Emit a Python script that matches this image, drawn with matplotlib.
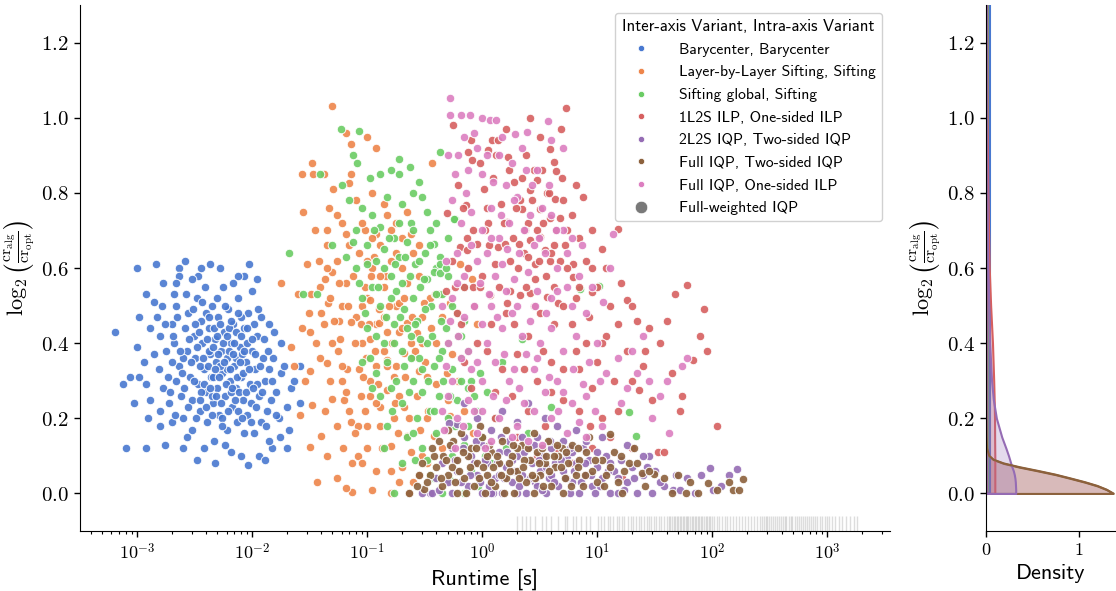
import math
import matplotlib
matplotlib.use("Agg")
import matplotlib.pyplot as plt
from matplotlib.lines import Line2D
from matplotlib.ticker import FuncFormatter, LogLocator, NullFormatter
from matplotlib.colors import to_rgba

plt.rcParams['font.family'] = ['cmss10', 'DejaVu Sans']
plt.rcParams['mathtext.fontset'] = 'cm'
plt.rcParams['axes.unicode_minus'] = False

# ---- data: (runtime [s], log2(cr_alg/cr_opt)) ----
bary_pts = [
    (6.5e-4, 0.43), (7.5e-4, 0.29), (8e-4, 0.12), (1.2e-3, 0.12), (1.0e-3, 0.60), (1.45e-3, 0.61),
    (2.6e-3, 0.62), (2.3e-3, 0.60), (4.3e-3, 0.61), (9.5e-3, 0.61), (3.4e-3, 0.58), (2.3e-3, 0.58),
    (1.7e-3, 0.56), (8.5e-3, 0.58), (1.0e-3, 0.39), (1.15e-3, 0.35), (8.7e-4, 0.31), (1.05e-3, 0.31),
    (1.2e-3, 0.53), (2.1e-3, 0.53), (1.4e-3, 0.51), (0.026, 0.24), (0.026, 0.34), (0.021, 0.17),
    (0.02, 0.12), (0.015, 0.12), (0.014, 0.45), (0.0153, 0.36), (0.018, 0.32), (4.8e-3, 0.08),
    (9.2e-3, 0.075), (1.75e-3, 0.13), (1.6e-3, 0.18),
    (1.5e-3, 0.47), (1.6e-3, 0.42), (1.8e-3, 0.38), (1.7e-3, 0.28), (1.9e-3, 0.24), (1.6e-3, 0.22),
    (2.0e-3, 0.45), (2.2e-3, 0.50), (2.1e-3, 0.40), (2.3e-3, 0.34), (2.2e-3, 0.30), (2.4e-3, 0.26),
    (2.5e-3, 0.20), (2.6e-3, 0.44), (2.7e-3, 0.38), (2.8e-3, 0.48), (2.9e-3, 0.31), (3.0e-3, 0.25),
    (3.0e-3, 0.17), (3.1e-3, 0.42), (3.2e-3, 0.36), (3.3e-3, 0.52), (3.4e-3, 0.29), (3.5e-3, 0.22),
    (3.6e-3, 0.46), (3.7e-3, 0.40), (3.8e-3, 0.33), (3.9e-3, 0.55), (4.0e-3, 0.27), (4.1e-3, 0.19),
    (4.2e-3, 0.44), (4.3e-3, 0.37), (4.4e-3, 0.31), (4.5e-3, 0.50), (4.6e-3, 0.24), (4.7e-3, 0.14),
    (4.8e-3, 0.41), (4.9e-3, 0.35), (5.0e-3, 0.28), (5.1e-3, 0.47), (5.2e-3, 0.21), (5.4e-3, 0.38),
    (5.5e-3, 0.32), (5.6e-3, 0.55), (5.7e-3, 0.43), (5.8e-3, 0.26), (6.0e-3, 0.17), (6.1e-3, 0.36),
    (6.2e-3, 0.49), (6.4e-3, 0.30), (6.5e-3, 0.40), (6.7e-3, 0.23), (6.9e-3, 0.45), (7.0e-3, 0.34),
    (7.2e-3, 0.28), (7.4e-3, 0.19), (7.6e-3, 0.52), (7.8e-3, 0.39), (8.0e-3, 0.31), (8.3e-3, 0.25),
    (8.5e-3, 0.44), (8.8e-3, 0.35), (9.0e-3, 0.21), (9.3e-3, 0.48), (9.6e-3, 0.29), (1.0e-2, 0.38),
    (1.03e-2, 0.16), (1.07e-2, 0.33), (1.1e-2, 0.42), (1.15e-2, 0.26), (1.2e-2, 0.19), (1.25e-2, 0.36),
    (1.3e-2, 0.30), (1.35e-2, 0.22), (1.4e-2, 0.14), (1.2e-2, 0.47), (1.0e-2, 0.54), (1.6e-2, 0.27),
    (1.7e-2, 0.20), (1.15e-2, 0.10), (6.5e-3, 0.11), (3.8e-3, 0.12), (2.7e-3, 0.15), (1.3e-3, 0.25),
    (1.3e-3, 0.44), (5.3e-3, 0.60), (7.5e-3, 0.58), (3.0e-3, 0.57), (2.0e-3, 0.35), (4.0e-3, 0.48),
    (5.0e-3, 0.42), (6.0e-3, 0.33), (7.0e-3, 0.40), (8.0e-3, 0.47), (9.0e-3, 0.40), (3.5e-3, 0.34),
    (4.5e-3, 0.26), (5.5e-3, 0.20), (6.5e-3, 0.27), (7.5e-3, 0.22), (8.5e-3, 0.16), (1.1e-2, 0.29),
    (2.5e-3, 0.36), (3.2e-3, 0.45), (4.2e-3, 0.38), (5.3e-3, 0.34), (6.3e-3, 0.44), (7.3e-3, 0.36),
    (8.2e-3, 0.37), (9.8e-3, 0.24), (1.05e-2, 0.45), (3.6e-3, 0.27), (4.6e-3, 0.31), (2.0e-3, 0.19),
    (1.8e-2, 0.40), (1.4e-2, 0.33), (0.022, 0.28), (0.02, 0.23),
    (1.55e-3, 0.33), (1.65e-3, 0.50), (1.75e-3, 0.45), (1.85e-3, 0.31), (1.95e-3, 0.27), (2.05e-3, 0.42),
    (2.15e-3, 0.21), (2.25e-3, 0.47), (2.35e-3, 0.38), (2.45e-3, 0.32), (2.55e-3, 0.28), (2.65e-3, 0.53),
    (2.75e-3, 0.23), (2.85e-3, 0.41), (2.95e-3, 0.35), (3.05e-3, 0.49), (3.15e-3, 0.30), (3.25e-3, 0.20),
    (3.35e-3, 0.39), (3.45e-3, 0.43), (3.55e-3, 0.25), (3.65e-3, 0.51), (3.75e-3, 0.36), (3.85e-3, 0.29),
    (3.95e-3, 0.23), (4.05e-3, 0.41), (4.15e-3, 0.34), (4.25e-3, 0.47), (4.35e-3, 0.28), (4.45e-3, 0.21),
    (4.55e-3, 0.39), (4.65e-3, 0.44), (4.75e-3, 0.33), (4.85e-3, 0.26), (4.95e-3, 0.52), (5.05e-3, 0.37),
    (5.15e-3, 0.31), (5.25e-3, 0.45), (5.35e-3, 0.24), (5.45e-3, 0.18), (5.6e-3, 0.40), (5.7e-3, 0.35),
    (5.8e-3, 0.50), (5.9e-3, 0.29), (6.05e-3, 0.42), (6.15e-3, 0.22), (6.3e-3, 0.38), (6.45e-3, 0.33),
    (6.6e-3, 0.46), (6.75e-3, 0.28), (6.9e-3, 0.37), (7.05e-3, 0.25), (7.2e-3, 0.43), (7.35e-3, 0.31),
    (7.5e-3, 0.48), (7.7e-3, 0.27), (7.85e-3, 0.35), (8.05e-3, 0.42), (8.2e-3, 0.20), (8.4e-3, 0.32),
    (8.6e-3, 0.38), (8.9e-3, 0.27), (9.1e-3, 0.44), (9.4e-3, 0.33), (9.7e-3, 0.19), (9.9e-3, 0.41),
    (1.02e-2, 0.28), (1.06e-2, 0.37), (1.09e-2, 0.23), (1.13e-2, 0.49), (1.18e-2, 0.34), (1.22e-2, 0.27),
    (1.28e-2, 0.41), (1.33e-2, 0.18), (1.38e-2, 0.38), (1.45e-2, 0.25), (1.5e-2, 0.30), (1.55e-2, 0.43),
    (1.62e-2, 0.21), (1.9e-2, 0.34), (2.3e-2, 0.30), (1.75e-2, 0.15), (2.5e-3, 0.12), (3.3e-3, 0.09),
    (5.8e-3, 0.13), (8.0e-3, 0.10), (1.3e-2, 0.09), (2.2e-3, 0.56), (3.6e-3, 0.60), (6.8e-3, 0.56),
    (1.1e-2, 0.57), (1.4e-3, 0.37), (1.2e-3, 0.29), (1.05e-3, 0.47), (1.25e-3, 0.20), (9.5e-4, 0.24),
]

lbl_pts = [
    (0.05, 1.03), (0.065, 0.96), (0.072, 0.93), (0.10, 0.95), (0.12, 0.92), (0.033, 0.88),
    (0.027, 0.85), (0.034, 0.85), (0.042, 0.85), (0.073, 0.85), (0.07, 0.825), (0.051, 0.81),
    (0.028, 0.75), (0.047, 0.76), (0.37, 0.88), (0.08, 0.78), (0.11, 0.80), (0.15, 0.74), (0.06, 0.72),
    (0.018, 0.56), (0.030, 0.61), (0.039, 0.55), (0.025, 0.53), (0.0325, 0.53), (0.045, 0.66),
    (0.055, 0.62), (0.065, 0.69), (0.075, 0.58), (0.085, 0.64), (0.095, 0.70), (0.11, 0.60),
    (0.13, 0.66), (0.16, 0.62), (0.2, 0.68), (0.25, 0.64), (0.06, 0.50), (0.08, 0.47), (0.1, 0.52),
    (0.12, 0.45), (0.14, 0.55), (0.18, 0.50), (0.22, 0.56), (0.28, 0.58), (0.35, 0.52), (0.3, 0.47),
    (0.042, 0.45), (0.05, 0.40),
    (0.031, 0.48), (0.04, 0.48), (0.032, 0.43), (0.046, 0.506), (0.057, 0.46), (0.072, 0.457),
    (0.09, 0.50), (0.107, 0.515), (0.126, 0.49), (0.058, 0.41), (0.039, 0.36), (0.045, 0.347),
    (0.0217, 0.39), (0.032, 0.327), (0.026, 0.21), (0.033, 0.236), (0.04, 0.152), (0.032, 0.124),
    (0.037, 0.03), (0.074, 0.005), (0.074, 0.08), (0.05, 0.252), (0.063, 0.25), (0.072, 0.19),
    (0.083, 0.18), (0.067, 0.33), (0.085, 0.33), (0.106, 0.30), (0.107, 0.26), (0.13, 0.23),
    (0.149, 0.276), (0.19, 0.26), (0.21, 0.23), (0.149, 0.356), (0.18, 0.34), (0.21, 0.373),
    (0.25, 0.364), (0.28, 0.325), (0.33, 0.31), (0.27, 0.427), (0.31, 0.506), (0.19, 0.506),
    (0.22, 0.453), (0.126, 0.453), (0.107, 0.41), (0.22, 0.152), (0.16, 0.126), (0.25, 0.03),
    (0.23, 0.002), (0.16, 0.002), (0.33, 0.08), (0.38, 0.152), (0.4, 0.40), (0.45, 0.47),
    (0.53, 0.506), (0.52, 0.207), (0.84, 0.16), (0.49, 0.32), (0.39, 0.53),
    (0.64, 0.61), (0.81, 0.57), (0.55, 0.37), (0.62, 0.30), (0.7, 0.22), (0.9, 0.45),
    (0.12, 0.06), (0.2, 0.07), (0.3, 0.10), (0.045, 0.10), (0.1, 0.12),
    (0.045, 0.70), (0.055, 0.74), (0.09, 0.72), (0.07, 0.66), (0.12, 0.69), (0.14, 0.77),
    (0.18, 0.72), (0.22, 0.75), (0.05, 0.59), (0.09, 0.40), (0.14, 0.38), (0.17, 0.20),
    (0.06, 0.30), (0.095, 0.22), (0.12, 0.34), (0.24, 0.40), (0.065, 0.56), (0.15, 0.43),
    (0.035, 0.70), (0.038, 0.62), (0.043, 0.57), (0.048, 0.52), (0.052, 0.46), (0.056, 0.38),
    (0.061, 0.34), (0.066, 0.27), (0.07, 0.22), (0.078, 0.16), (0.083, 0.10), (0.088, 0.26),
    (0.093, 0.31), (0.098, 0.36), (0.103, 0.45), (0.108, 0.58), (0.115, 0.63), (0.118, 0.38),
    (0.125, 0.29), (0.13, 0.18), (0.135, 0.12), (0.14, 0.47), (0.145, 0.58), (0.155, 0.50),
    (0.165, 0.40), (0.17, 0.31), (0.175, 0.24), (0.185, 0.16), (0.19, 0.43), (0.2, 0.60),
    (0.21, 0.52), (0.215, 0.31), (0.23, 0.20), (0.24, 0.11), (0.245, 0.47), (0.26, 0.38),
    (0.27, 0.26), (0.29, 0.17), (0.3, 0.40), (0.32, 0.35), (0.34, 0.22), (0.36, 0.44),
    (0.4, 0.29), (0.42, 0.53), (0.45, 0.12), (0.5, 0.25), (0.048, 0.30), (0.055, 0.18),
    (0.062, 0.12), (0.043, 0.22), (0.036, 0.40), (0.029, 0.30), (0.027, 0.44), (0.023, 0.34),
    (0.057, 0.56), (0.068, 0.50), (0.078, 0.40), (0.088, 0.45), (0.095, 0.55), (0.1, 0.62),
    (0.11, 0.68), (0.13, 0.58), (0.16, 0.70), (0.18, 0.64), (0.24, 0.69), (0.28, 0.66),
    (0.2, 0.44), (0.15, 0.34), (0.12, 0.24), (0.1, 0.18), (0.09, 0.08), (0.16, 0.06),
    (0.19, 0.03), (0.28, 0.05), (0.33, 0.20), (0.055, 0.04), (0.065, 0.015), (0.11, 0.01), (0.045, 0.6),
]

sift_pts = [
    (0.059, 0.97), (0.085, 0.966), (0.076, 0.90), (0.082, 0.88), (0.188, 0.89), (0.19, 0.85),
    (0.237, 0.87), (0.43, 0.91), (0.105, 0.84), (0.28, 0.83), (0.039, 0.85), (0.06, 0.82),
    (0.021, 0.64), (0.028, 0.53), (0.037, 0.53), (0.58, 0.73), (0.43, 0.63),
    (0.07, 0.78), (0.09, 0.76), (0.11, 0.74), (0.13, 0.71), (0.15, 0.79), (0.17, 0.68), (0.2, 0.77),
    (0.24, 0.72), (0.3, 0.79), (0.35, 0.70), (0.08, 0.70), (0.1, 0.66), (0.12, 0.62), (0.14, 0.65),
    (0.16, 0.58), (0.19, 0.63), (0.22, 0.67), (0.26, 0.61), (0.32, 0.64), (0.4, 0.60), (0.5, 0.58),
    (0.08, 0.60), (0.065, 0.63), (0.05, 0.66), (0.11, 0.55), (0.13, 0.50), (0.18, 0.54), (0.21, 0.49),
    (0.25, 0.52), (0.29, 0.55), (0.36, 0.50), (0.45, 0.53), (0.6, 0.48), (0.7, 0.55),
    (0.1, 0.44), (0.14, 0.40), (0.17, 0.45), (0.2, 0.38), (0.24, 0.42), (0.28, 0.36), (0.33, 0.40),
    (0.38, 0.34), (0.45, 0.38), (0.55, 0.33), (0.65, 0.36), (0.8, 0.30), (0.12, 0.32), (0.16, 0.28),
    (0.2, 0.24), (0.25, 0.30), (0.3, 0.27), (0.35, 0.22), (0.42, 0.26), (0.5, 0.20), (0.6, 0.25),
    (0.75, 0.18), (0.9, 0.22), (1.1, 0.27), (0.15, 0.18), (0.22, 0.15), (0.3, 0.12), (0.4, 0.16),
    (0.55, 0.10), (0.7, 0.13), (1.0, 0.15), (1.3, 0.20), (1.6, 0.12), (0.53, 0.037), (0.92, 0.02),
    (0.17, 0.0), (0.35, 0.05), (0.45, 0.0), (0.8, 0.06), (0.26, 0.09),
    (21.7, 0.154), (19.0, 0.218), (2.5, 0.16), (4.0, 0.23), (1.5, 0.35), (2.2, 0.41),
    (0.57, 0.73), (0.38, 0.665), (0.43, 0.61), (0.38, 0.59), (0.43, 0.586), (7.1, 0.544), (10.4, 0.552),
    (0.27, 0.46), (0.33, 0.57), (0.48, 0.44), (0.65, 0.42), (0.09, 0.35), (0.75, 0.28), (1.2, 0.08),
    (0.085, 0.56), (0.095, 0.48), (0.1, 0.61), (0.105, 0.36), (0.115, 0.70), (0.12, 0.42),
    (0.125, 0.55), (0.13, 0.26), (0.14, 0.60), (0.145, 0.47), (0.15, 0.35), (0.155, 0.68),
    (0.16, 0.52), (0.165, 0.22), (0.17, 0.40), (0.175, 0.61), (0.18, 0.30), (0.19, 0.72),
    (0.195, 0.47), (0.2, 0.56), (0.21, 0.34), (0.215, 0.63), (0.22, 0.44), (0.23, 0.27),
    (0.235, 0.58), (0.24, 0.36), (0.25, 0.70), (0.26, 0.45), (0.27, 0.20), (0.28, 0.62),
    (0.29, 0.41), (0.3, 0.33), (0.31, 0.57), (0.32, 0.49), (0.34, 0.30), (0.35, 0.66),
    (0.37, 0.42), (0.38, 0.22), (0.4, 0.53), (0.42, 0.36), (0.44, 0.46), (0.46, 0.30),
    (0.48, 0.60), (0.5, 0.40), (0.52, 0.26), (0.55, 0.50), (0.58, 0.18), (0.62, 0.42),
    (0.66, 0.30), (0.7, 0.46), (0.76, 0.38), (0.85, 0.26), (0.95, 0.32), (1.05, 0.10),
    (0.14, 0.12), (0.2, 0.08), (0.25, 0.16), (0.33, 0.09), (0.38, 0.04), (0.62, 0.06), (0.7, 0.0),
    (0.11, 0.28), (0.09, 0.52), (0.075, 0.67), (0.13, 0.85), (0.16, 0.86), (0.25, 0.80),
    (0.33, 0.75), (0.4, 0.72), (0.5, 0.68),
]

ilp_pts = [
    (5.35, 1.025), (0.56, 0.98), (0.80, 0.94), (1.21, 0.94), (1.38, 0.94), (1.13, 0.913), (1.31, 0.90),
    (1.66, 0.895), (2.4, 0.90), (3.9, 0.917), (4.2, 0.882), (0.81, 0.887), (3.0, 0.834), (4.4, 0.858),
    (2.6, 0.807), (3.64, 0.80), (4.3, 0.785), (5.0, 0.78), (2.14, 0.78), (2.2, 0.758), (3.2, 0.758),
    (3.9, 0.732), (4.75, 0.732), (1.04, 0.81), (0.73, 0.767), (0.49, 0.747), (1.64, 0.723),
    (1.13, 0.72), (0.84, 0.70), (0.74, 0.68), (0.90, 0.665), (1.38, 0.656), (1.58, 0.665),
    (2.07, 0.665), (2.6, 0.674), (3.2, 0.683), (3.5, 0.648), (2.3, 0.64), (2.9, 0.612), (3.9, 0.62),
    (6.1, 0.61), (1.75, 0.62), (1.3, 0.612), (0.64, 0.656), (0.74, 0.648), (0.48, 0.54), (0.58, 0.55),
    (0.69, 0.55), (0.84, 0.55), (0.96, 0.55), (1.17, 0.528), (1.75, 0.54), (2.14, 0.528), (2.6, 0.533),
    (3.64, 0.524), (4.6, 0.508), (1.64, 0.506), (15.0, 0.705), (18.0, 0.515), (47.0, 0.53),
    (60.0, 0.555), (9.0, 0.537), (6.1, 0.577), (2.8, 0.86), (1.9, 0.83), (6.5, 0.82), (7.5, 0.79),
    (5.5, 0.70), (4.2, 0.66), (1.1, 0.76), (2.5, 0.72),
    (78.0, 0.42), (85.0, 0.49), (68.0, 0.356), (52.0, 0.22), (23.0, 0.276), (110.0, 0.18),
    (34.0, 0.11), (38.0, 0.11), (16.5, 0.04), (8.6, 0.18),
    (6.0, 0.45), (8.0, 0.40), (10.0, 0.35), (12.0, 0.42), (14.0, 0.30), (18.0, 0.38), (25.0, 0.34),
    (30.0, 0.25), (4.0, 0.35), (3.0, 0.30), (2.5, 0.42), (2.0, 0.37), (1.5, 0.33), (1.2, 0.45),
    (0.9, 0.40), (0.7, 0.35), (0.6, 0.48), (5.0, 0.25), (7.0, 0.22), (9.0, 0.28), (11.0, 0.20),
    (13.0, 0.15), (3.5, 0.18), (2.5, 0.22), (1.8, 0.26), (1.3, 0.20), (0.8, 0.28), (4.5, 0.12),
    (6.0, 0.08), (20.0, 0.12), (15.0, 0.45), (20.0, 0.50), (28.0, 0.44), (35.0, 0.40), (45.0, 0.32),
    (5.0, 0.50), (7.0, 0.55), (9.0, 0.60), (11.0, 0.65), (3.2, 0.48), (2.4, 0.55), (1.6, 0.48),
    (1.0, 0.58), (0.75, 0.60), (40.0, 0.46),
    (0.62, 0.82), (0.68, 0.76), (0.95, 0.88), (1.05, 0.70), (1.15, 0.66), (1.25, 0.84), (1.45, 0.77),
    (1.55, 0.72), (1.7, 0.86), (1.85, 0.68), (1.95, 0.76), (2.05, 0.60), (2.2, 0.84), (2.35, 0.70),
    (2.5, 0.63), (2.7, 0.78), (2.85, 0.57), (3.0, 0.70), (3.1, 0.62), (3.3, 0.86), (3.4, 0.72),
    (3.6, 0.58), (3.8, 0.80), (4.0, 0.64), (4.2, 0.55), (4.4, 0.70), (4.7, 0.62), (4.9, 0.84),
    (5.2, 0.66), (5.5, 0.60), (6.0, 0.74), (6.5, 0.52), (7.0, 0.68), (8.0, 0.62), (9.0, 0.70),
    (10.0, 0.55), (12.0, 0.60), (0.55, 0.62), (0.65, 0.45), (0.85, 0.50), (1.1, 0.38), (1.4, 0.55),
    (1.9, 0.45), (2.3, 0.33), (2.8, 0.50), (3.4, 0.38), (4.2, 0.45), (5.0, 0.33), (6.5, 0.38),
    (8.5, 0.47), (11.0, 0.40), (13.0, 0.50), (16.0, 0.56), (22.0, 0.46), (26.0, 0.38), (0.75, 0.91),
    (1.6, 0.97), (2.6, 1.00), (3.2, 0.95), (4.8, 0.97), (1.3, 0.27), (2.0, 0.15), (3.0, 0.10),
    (4.0, 0.27), (7.0, 0.33), (9.0, 0.12), (15.0, 0.22), (20.0, 0.30), (55.0, 0.26), (90.0, 0.38),
]

twosided_pts = [
    (0.61, 0.186), (0.51, 0.188), (28.0, 0.10), (95.0, 0.068), (163.0, 0.066), (45.5, 0.01),
    (52.0, 0.01), (101.0, 0.01), (0.35, 0.0), (0.37, 0.0), (1.25, 0.002),
    (0.4, 0.04), (0.45, 0.08), (0.55, 0.12), (0.6, 0.06), (0.7, 0.15), (0.75, 0.02), (0.8, 0.10),
    (0.9, 0.05), (1.0, 0.13), (1.0, 0.0), (1.1, 0.08), (1.2, 0.17), (1.3, 0.04), (1.4, 0.11),
    (1.5, 0.0), (1.6, 0.07), (1.7, 0.14), (1.8, 0.03), (2.0, 0.10), (2.0, 0.19), (2.2, 0.05),
    (2.4, 0.0), (2.5, 0.12), (2.7, 0.08), (2.9, 0.03), (3.0, 0.15), (3.2, 0.06), (3.4, 0.10),
    (3.6, 0.0), (3.8, 0.04), (4.0, 0.12), (4.3, 0.08), (4.6, 0.02), (5.0, 0.06), (5.0, 0.14),
    (5.5, 0.10), (6.0, 0.03), (6.5, 0.08), (7.0, 0.0), (7.5, 0.12), (8.0, 0.05), (8.5, 0.09),
    (9.0, 0.02), (10.0, 0.07), (11.0, 0.04), (12.0, 0.10), (13.0, 0.0), (14.0, 0.06), (16.0, 0.09),
    (18.0, 0.03), (20.0, 0.07), (22.0, 0.0), (25.0, 0.05), (32.0, 0.06), (38.0, 0.02), (60.0, 0.04),
    (70.0, 0.0), (80.0, 0.05), (120.0, 0.02), (0.9, 0.20), (1.5, 0.22), (2.5, 0.24), (0.7, 0.24),
    (3.5, 0.20), (1.2, 0.0), (0.55, 0.0), (0.65, 0.03), (2.0, 0.0), (5.8, 0.0), (9.5, 0.0),
    (15.0, 0.0), (30.0, 0.0), (18.0, 0.13), (11.0, 0.15), (6.5, 0.17), (4.5, 0.18), (2.2, 0.15),
    (1.8, 0.09), (1.4, 0.05), (0.85, 0.08), (3.0, 0.02), (4.0, 0.05), (6.0, 0.11), (8.0, 0.14),
    (10.0, 0.11), (13.0, 0.08), (25.0, 0.10),
    (0.5, 0.03), (0.58, 0.09), (0.68, 0.12), (0.78, 0.05), (0.88, 0.14), (0.95, 0.03), (1.05, 0.09),
    (1.15, 0.02), (1.35, 0.08), (1.45, 0.15), (1.55, 0.04), (1.65, 0.11), (1.9, 0.06), (2.1, 0.02),
    (2.3, 0.11), (2.6, 0.04), (2.8, 0.13), (3.1, 0.09), (3.3, 0.01), (3.6, 0.07), (3.9, 0.14),
    (4.2, 0.03), (4.8, 0.09), (5.3, 0.04), (5.8, 0.12), (6.3, 0.06), (7.2, 0.03), (7.8, 0.08),
    (8.8, 0.05), (10.5, 0.02), (12.5, 0.06), (15.0, 0.04), (17.0, 0.01), (21.0, 0.04), (27.0, 0.07),
    (35.0, 0.03), (48.0, 0.05), (0.42, 0.01), (0.3, 0.0), (140.0, 0.05),
]

fulliqp_pts = [
    (0.56, 0.139), (0.46, 0.10), (0.31, 0.012), (0.23, 0.0), (4.9, 0.121), (12.9, 0.158),
    (21.0, 0.121), (19.0, 0.081), (24.3, 0.055), (31.0, 0.053), (38.0, 0.04), (64.0, 0.03),
    (92.0, 0.027), (183.0, 0.039), (151.0, 0.01), (75.0, 0.0), (59.0, 0.0), (16.3, 0.0), (1.06, 0.0),
    (0.4, 0.07), (0.5, 0.05), (0.6, 0.09), (0.65, 0.16), (0.7, 0.04), (0.8, 0.12), (0.85, 0.02),
    (0.9, 0.08), (1.0, 0.15), (1.1, 0.05), (1.2, 0.11), (1.3, 0.02), (1.4, 0.08), (1.5, 0.14),
    (1.6, 0.04), (1.8, 0.10), (1.9, 0.0), (2.0, 0.06), (2.2, 0.13), (2.4, 0.03), (2.6, 0.09),
    (2.8, 0.0), (3.0, 0.11), (3.2, 0.05), (3.5, 0.08), (3.7, 0.14), (4.0, 0.02), (4.3, 0.07),
    (4.6, 0.10), (5.2, 0.04), (5.6, 0.08), (6.0, 0.13), (6.5, 0.05), (7.0, 0.09), (7.5, 0.02),
    (8.0, 0.11), (9.0, 0.06), (10.0, 0.03), (11.0, 0.09), (12.0, 0.05), (14.0, 0.11), (15.0, 0.03),
    (17.0, 0.06), (0.35, 0.05), (0.45, 0.02), (0.55, 0.07), (0.75, 0.10), (1.25, 0.07), (1.75, 0.06),
    (2.3, 0.09), (2.9, 0.04), (3.4, 0.02), (4.5, 0.13), (5.0, 0.0), (0.6, 0.0), (0.38, 0.10),
    (0.3, 0.08), (0.42, 0.14), (0.28, 0.05), (26.0, 0.02), (45.0, 0.0), (110.0, 0.01), (140.0, 0.03),
    (170.0, 0.01), (0.95, 0.18), (1.6, 0.17), (2.8, 0.16), (0.5, 0.17), (8.5, 0.15), (2.0, 0.12),
    (3.6, 0.10), (1.1, 0.10), (6.8, 0.07), (0.27, 0.02),
    (0.33, 0.03), (0.37, 0.12), (0.44, 0.04), (0.48, 0.09), (0.52, 0.13), (0.58, 0.03), (0.63, 0.06),
    (0.68, 0.11), (0.72, 0.0), (0.78, 0.07), (0.88, 0.12), (0.93, 0.04), (1.02, 0.07), (1.15, 0.13),
    (1.2, 0.03), (1.35, 0.10), (1.45, 0.05), (1.55, 0.0), (1.7, 0.08), (1.85, 0.13), (2.1, 0.04),
    (2.25, 0.07), (2.5, 0.12), (2.7, 0.05), (3.1, 0.08), (3.3, 0.12), (3.8, 0.06), (4.2, 0.10),
    (4.8, 0.07), (5.4, 0.11), (5.9, 0.02), (6.8, 0.12), (7.8, 0.05), (9.5, 0.09), (11.5, 0.02),
    (13.0, 0.07), (16.0, 0.10), (22.0, 0.08), (28.0, 0.06), (50.0, 0.05),
]

onesided_pts = [
    (0.53, 1.053), (0.53, 1.006), (0.65, 1.006), (0.78, 1.006), (1.0, 1.0), (1.17, 0.995),
    (1.32, 0.995), (1.93, 0.956), (2.47, 0.962), (3.7, 0.99), (0.7, 0.95), (0.9, 0.92), (1.4, 0.90),
    (0.62, 0.90), (1.8, 0.88), (2.2, 0.92), (3.0, 0.86), (4.0, 0.94), (5.0, 0.92), (0.75, 0.86),
    (1.0, 0.85), (1.25, 0.83), (1.6, 0.82), (2.0, 0.79), (2.7, 0.82), (3.3, 0.76), (4.0, 0.74),
    (5.0, 0.70), (6.0, 0.68), (0.55, 0.78), (0.65, 0.72), (0.8, 0.75), (1.0, 0.70), (1.2, 0.76),
    (1.4, 0.68), (1.7, 0.72), (2.3, 0.70), (2.8, 0.66), (3.5, 0.64), (4.5, 0.60), (0.48, 0.62),
    (0.6, 0.64), (0.7, 0.58), (0.9, 0.62), (1.1, 0.64), (1.3, 0.58), (1.5, 0.61), (1.9, 0.57),
    (2.5, 0.59), (3.0, 0.54), (4.0, 0.52), (5.5, 0.55), (7.3, 0.66), (13.6, 0.69), (13.0, 0.60),
    (11.2, 0.51), (8.0, 0.48), (0.45, 0.50), (0.55, 0.52), (0.7, 0.47), (0.85, 0.50), (1.0, 0.45),
    (1.2, 0.50), (1.5, 0.44), (1.8, 0.48), (2.2, 0.42), (2.6, 0.46), (3.2, 0.40), (4.0, 0.44),
    (5.0, 0.38), (6.5, 0.42), (8.5, 0.35), (10.0, 0.40), (12.0, 0.32), (15.0, 0.36), (18.0, 0.28),
    (22.0, 0.32), (28.0, 0.30), (35.0, 0.26), (55.0, 0.34), (60.0, 0.36), (0.5, 0.40), (0.65, 0.36),
    (0.8, 0.33), (1.0, 0.30), (1.3, 0.35), (1.7, 0.30), (2.1, 0.28), (2.8, 0.33), (3.5, 0.27),
    (4.5, 0.30), (6.0, 0.24), (7.5, 0.29), (9.5, 0.22), (0.55, 0.30), (0.75, 0.25), (1.0, 0.22),
    (1.4, 0.20), (2.0, 0.18), (2.8, 0.22), (4.0, 0.20), (5.5, 0.16), (8.0, 0.15), (11.0, 0.18),
    (0.6, 0.20), (0.9, 0.16), (1.2, 0.14), (0.45, 0.22), (0.47, 0.17), (3.3, 0.13), (42.0, 0.16),
    (30.0, 0.20), (25.0, 0.42),
    (0.5, 0.90), (0.58, 0.85), (0.72, 0.80), (0.85, 0.96), (1.1, 0.90), (1.5, 0.95), (1.2, 0.68),
    (1.45, 0.74), (1.65, 0.65), (1.9, 0.78), (2.1, 0.64), (2.4, 0.86), (2.6, 0.74), (3.1, 0.68),
    (3.8, 0.82), (4.4, 0.70), (5.5, 0.64), (0.6, 0.56), (0.8, 0.66), (0.95, 0.56), (1.15, 0.53),
    (1.35, 0.47), (1.6, 0.54), (2.0, 0.50), (2.4, 0.37), (2.9, 0.50), (3.6, 0.48), (4.5, 0.54),
    (6.0, 0.50), (7.0, 0.58), (9.0, 0.55), (0.52, 0.46), (0.62, 0.42), (0.75, 0.38), (0.9, 0.35),
    (1.1, 0.40), (1.25, 0.26), (1.55, 0.37), (1.9, 0.33), (2.3, 0.24), (3.0, 0.36), (3.8, 0.31),
    (5.0, 0.27), (6.2, 0.33), (8.0, 0.26), (10.5, 0.30), (0.5, 0.26), (0.68, 0.18), (1.6, 0.25),
    (2.5, 0.14), (4.6, 0.22), (7.0, 0.19), (0.48, 0.34), (0.58, 0.12), (0.85, 0.22), (1.05, 0.12),
    (1.8, 0.15), (16.0, 0.24), (20.0, 0.38), (40.0, 0.30),
]

# Full-weighted IQP runtimes (rug)
weighted_runtime = [
    2.0, 2.2, 2.4, 2.6, 2.9, 3.3, 3.6, 4.0, 4.6, 5.2, 5.5, 6.1, 6.5, 7.2, 8.0, 8.7,
    10.2, 10.8, 11.5, 12.3, 13.0, 13.8, 14.7, 15.5, 16.4, 17.2, 18.5, 19.6, 20.5, 21.8, 22.9,
    24.0, 25.6, 26.8, 28.1, 29.5, 31.0, 32.7, 34.5, 36.0, 38.2,
    40.5, 42.0, 43.1, 44.5, 46.0, 47.2, 48.9, 50.3, 52.0, 53.8, 55.1, 57.0, 58.6, 60.4, 62.0,
    64.3, 66.1, 68.4, 70.2, 72.5, 74.8, 77.0, 79.6, 82.1, 84.8, 87.5, 90.2, 93.0, 96.1, 99.0,
    104, 109, 115, 121, 128, 135, 142, 151, 160, 170, 181, 192, 205, 218, 232, 246,
    262, 270, 281, 290, 301, 312, 325, 338, 350, 364, 378, 392, 408, 425, 441, 460, 478, 497,
    518, 540, 562, 585, 610, 636, 662, 690, 720, 752, 785, 820, 858, 900, 945, 990, 1040, 1100,
    1170, 1250, 1340, 1450, 1560, 1700, 1800,
]

# density panel
dens_y = [0.0, 0.01, 0.02, 0.03, 0.04, 0.05, 0.06, 0.07, 0.08, 0.09, 0.10, 0.12, 0.15,
          0.2, 0.25, 0.3, 0.4, 0.5, 0.6, 0.8, 1.0, 1.4]
dens_fulliqp = [1.37, 1.30, 1.20, 1.065, 0.91, 0.75, 0.56, 0.36, 0.19, 0.08, 0.035, 0.012, 0.006,
                0.003, 0.002, 0.002, 0.001, 0.001, 0.001, 0.001, 0.001, 0.001]
dens_twosided = [0.32, 0.32, 0.318, 0.316, 0.312, 0.305, 0.295, 0.28, 0.267, 0.255, 0.243, 0.215,
                 0.17, 0.112, 0.079, 0.06, 0.04, 0.03, 0.02, 0.01, 0.005, 0.002]
dens_ilp = [0.095, 0.095, 0.095, 0.095, 0.095, 0.095, 0.095, 0.095, 0.095, 0.095, 0.095, 0.094,
            0.093, 0.092, 0.088, 0.083, 0.07, 0.05, 0.035, 0.02, 0.012, 0.008]
dens_bary = [0.045] * len(dens_y)
dens_sift = [0.036] * len(dens_y)
dens_lbl = [0.03] * len(dens_y)
dens_onesided = [0.026] * len(dens_y)
dens_weighted = [0.02] * len(dens_y)

groups = [
    ("Barycenter, Barycenter", bary_pts, "#4878d0"),
    ("Layer-by-Layer Sifting, Sifting", lbl_pts, "#ee854a"),
    ("Sifting global, Sifting", sift_pts, "#6acc64"),
    ("1L2S ILP, One-sided ILP", ilp_pts, "#d65f5f"),
    ("2L2S IQP, Two-sided IQP", twosided_pts, "#956cb4"),
    ("Full IQP, Two-sided IQP", fulliqp_pts, "#8c613c"),
    ("Full IQP, One-sided ILP", onesided_pts, "#dc7ec0"),
]
gray = "#797979"

ylab = r'$\log_2\left(\frac{\mathrm{cr}_{\mathrm{alg}}}{\mathrm{cr}_{\mathrm{opt}}}\right)$'
tickfmt = FuncFormatter(lambda v, _: r'$%.1f$' % v)

fig = plt.figure(figsize=(11.16, 5.91), dpi=100)
ax = fig.add_axes([0.0717, 0.1015, 0.7258, 0.89])
axd = fig.add_axes([0.8835, 0.1015, 0.1165, 0.89])

# scatter
for label, pts, col in groups:
    rt = [p[0] for p in pts]
    r = [p[1] for p in pts]
    ax.scatter(rt, r, s=38, color=col, edgecolor='white', linewidth=0.75, alpha=0.9, zorder=2)

ax.vlines(weighted_runtime, 0, 0.028, transform=ax.get_xaxis_transform(),
          colors=gray, alpha=0.25, linewidth=1)

ax.set_xscale('log')
ax.set_xlim(3.2e-4, 3.5e3)
ax.set_ylim(-0.1, 1.3)
ax.set_xticks([1e-3, 1e-2, 1e-1, 1e0, 1e1, 1e2, 1e3])
ax.xaxis.set_major_formatter(FuncFormatter(lambda v, _: r'$10^{%d}$' % round(math.log10(v))))
ax.xaxis.set_minor_locator(LogLocator(base=10, subs=range(2, 10), numticks=20))
ax.xaxis.set_minor_formatter(NullFormatter())
ax.set_yticks([0.0, 0.2, 0.4, 0.6, 0.8, 1.0, 1.2])
ax.yaxis.set_major_formatter(tickfmt)
ax.set_xlabel('Runtime [s]', fontsize=16)
ax.set_ylabel(ylab, fontsize=16, labelpad=3)

handles = [Line2D([], [], ls='', marker='o', markersize=4.5, color=col, markeredgecolor='white',
                  markeredgewidth=0.5)
           for _, _, col in groups]
handles.append(Line2D([], [], ls='', marker='o', markersize=9, color=gray, markeredgecolor='white',
                      markeredgewidth=0.5))
labels = [g[0] for g in groups] + ["Full-weighted IQP"]
ax.legend(handles, labels, title="Inter-axis Variant, Intra-axis Variant", loc='upper right',
          fontsize=11.3, title_fontsize=12, framealpha=0.9, labelspacing=0.55,
          handlelength=2.6, handletextpad=1.1)

# density panel
axd.fill_betweenx(dens_y, 0, dens_fulliqp, facecolor='#d8baba', edgecolor='#8c613c', linewidth=1.5)
dens = [(dens_weighted, gray), (dens_lbl, "#ee854a"), (dens_onesided, "#dc7ec0"),
        (dens_sift, "#6acc64"), (dens_bary, "#4878d0"), (dens_ilp, "#d65f5f"),
        (dens_twosided, "#956cb4")]
for vals, col in dens:
    axd.fill_betweenx(dens_y, 0, vals, facecolor=to_rgba(col, 0.25), edgecolor=col, linewidth=1.5)
axd.plot(dens_fulliqp, dens_y, color='#8c613c', linewidth=1.5)

axd.set_xlim(0, 1.40)
axd.set_ylim(-0.1, 1.3)
axd.set_xticks([0, 1])
axd.xaxis.set_major_formatter(FuncFormatter(lambda v, _: r'$%d$' % v))
axd.set_yticks([0.0, 0.2, 0.4, 0.6, 0.8, 1.0, 1.2])
axd.yaxis.set_major_formatter(tickfmt)
axd.set_xlabel('Density', fontsize=16)
axd.set_ylabel(ylab, fontsize=16, labelpad=3)

for a in (ax, axd):
    a.spines['top'].set_visible(False)
    a.spines['right'].set_visible(False)
    a.tick_params(length=4.5, width=1)
    a.tick_params(axis='x', labelsize=13)
    a.tick_params(axis='y', labelsize=15)
    a.tick_params(which='minor', length=2.5, width=0.8)

fig.savefig('out.png', dpi=100)
